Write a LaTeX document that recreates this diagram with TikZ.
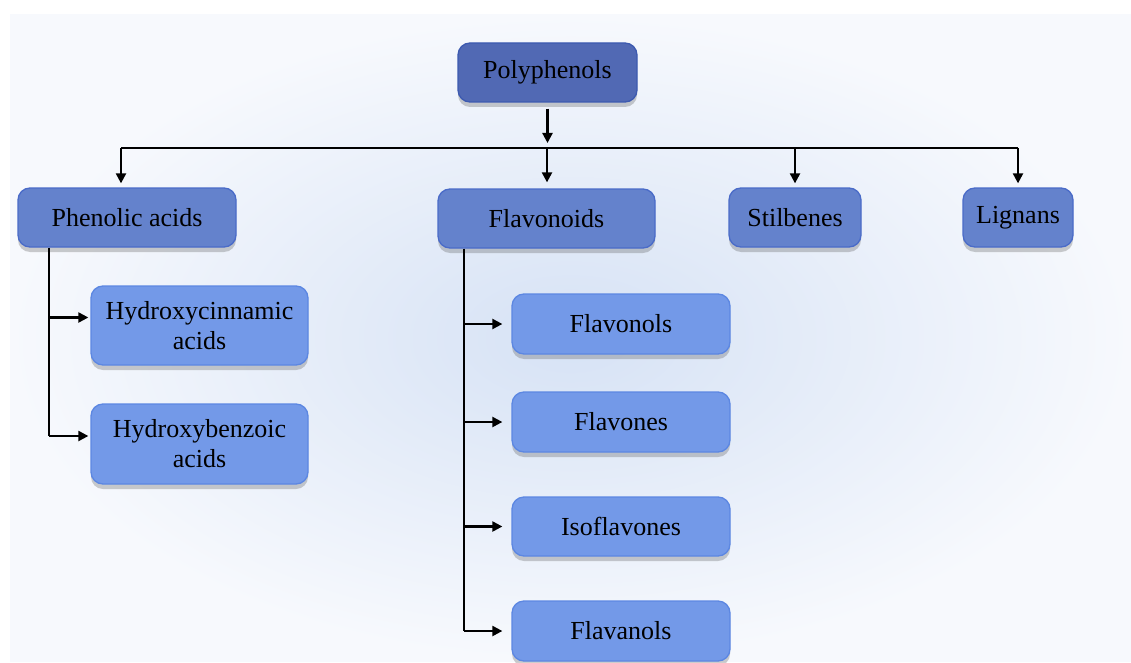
\documentclass[tikz,border=0pt]{standalone}
\usepackage{fontspec}
\setmainfont{Liberation Serif}
\usetikzlibrary{arrows.meta,shadows}
\definecolor{bgin}{HTML}{D6E2F5}
\definecolor{bgout}{HTML}{F7F9FD}
\definecolor{topfill}{HTML}{5169B4}
\definecolor{topdraw}{HTML}{3D5AB0}
\definecolor{midfill}{HTML}{6482CC}
\definecolor{middraw}{HTML}{4A6BC8}
\definecolor{lowfill}{HTML}{7399E8}
\definecolor{lowdraw}{HTML}{5C87E2}
\tikzset{
  basebox/.style={rounded corners=12pt, line width=1.3pt, align=center, inner sep=0pt,
    font=\fontsize{26}{30}\selectfont, text=black,
    drop shadow={shadow xshift=0pt, shadow yshift=-5pt, opacity=0.28, fill=black!70}},
  lvlone/.style={basebox, fill=topfill, draw=topdraw},
  lvltwo/.style={basebox, fill=midfill, draw=middraw},
  lvlthree/.style={basebox, fill=lowfill, draw=lowdraw},
  ln/.style={line width=2.2pt, black},
  arr/.style={ln, -{Triangle[length=10pt,width=10pt]}}
}
\begin{document}
\begin{tikzpicture}[x=1pt,y=-1pt]
\useasboundingbox (0,0) rectangle (1131,663);
\fill[white] (0,0) rectangle (1131,663);
\shade[inner color=bgin, outer color=bgout] (10,15) rectangle (1131,661);

\node[lvlone, minimum width=179pt, minimum height=59pt] (poly) at (547.5,72.5) {Polyphenols};

\node[lvltwo, minimum width=218pt, minimum height=59pt] (phen) at (127,217.5) {Phenolic acids};
\node[lvltwo, minimum width=217pt, minimum height=59pt] (flav) at (546.5,218.5) {Flavonoids};
\node[lvltwo, minimum width=132pt, minimum height=59pt] (stil) at (795,217.5) {Stilbenes};
\node[lvltwo, minimum width=110pt, minimum height=59pt] (lign) at (1018,217.5) {Lignans};

\node[lvlthree, minimum width=217pt, minimum height=79pt] (hcin) at (199.5,325.5) {Hydroxycinnamic\\acids};
\node[lvlthree, minimum width=217pt, minimum height=80pt] (hben) at (199.5,444) {Hydroxybenzoic\\acids};

\node[lvlthree, minimum width=218pt, minimum height=60pt] (fnol) at (621,324) {Flavonols};
\node[lvlthree, minimum width=218pt, minimum height=60pt] (fone) at (621,422) {Flavones};
\node[lvlthree, minimum width=218pt, minimum height=59pt] (iso) at (621,526.5) {Isoflavones};
\node[lvlthree, minimum width=218pt, minimum height=60pt] (fnal) at (621,631) {Flavanols};

% bus
\coordinate (bus) at (547,148);
\coordinate (bl) at (121,148);
\coordinate (br) at (1018,148);
\coordinate (bs) at (795,148);
\draw[arr, shorten <=6pt, shorten >=5pt] (poly.south) -- (poly.south |- bus);
\draw[ln] (bl) -- (br);
\draw[arr, shorten >=4pt] (bl) -- (bl |- phen.north);
\draw[arr, shorten >=6pt] (bus) -- (bus |- flav.north);
\draw[arr, shorten >=4pt] (bs) -- (bs |- stil.north);
\draw[arr, shorten >=4pt] (br) -- (br |- lign.north);

% phenolic acids spine
\coordinate (ps) at (49,0);
\coordinate (h1) at ([yshift=8pt]hcin.west);
\coordinate (h2) at ([yshift=8pt]hben.west);
\draw[ln] (ps |- phen.south) -- (h2 -| ps);
\draw[arr, shorten >=2pt] (h1 -| ps) -- (h1);
\draw[arr, shorten >=2pt] (h2 -| ps) -- (h2);

% flavonoids spine
\coordinate (fs) at (464,0);
\draw[ln] (fs |- flav.south) -- (fs |- fnal.west);
\draw[arr, shorten >=9pt] (fs |- fnol.west) -- (fnol.west);
\draw[arr, shorten >=9pt] (fs |- fone.west) -- (fone.west);
\draw[arr, shorten >=9pt] (fs |- iso.west) -- (iso.west);
\draw[arr, shorten >=9pt] (fs |- fnal.west) -- (fnal.west);
\end{tikzpicture}
\end{document}
